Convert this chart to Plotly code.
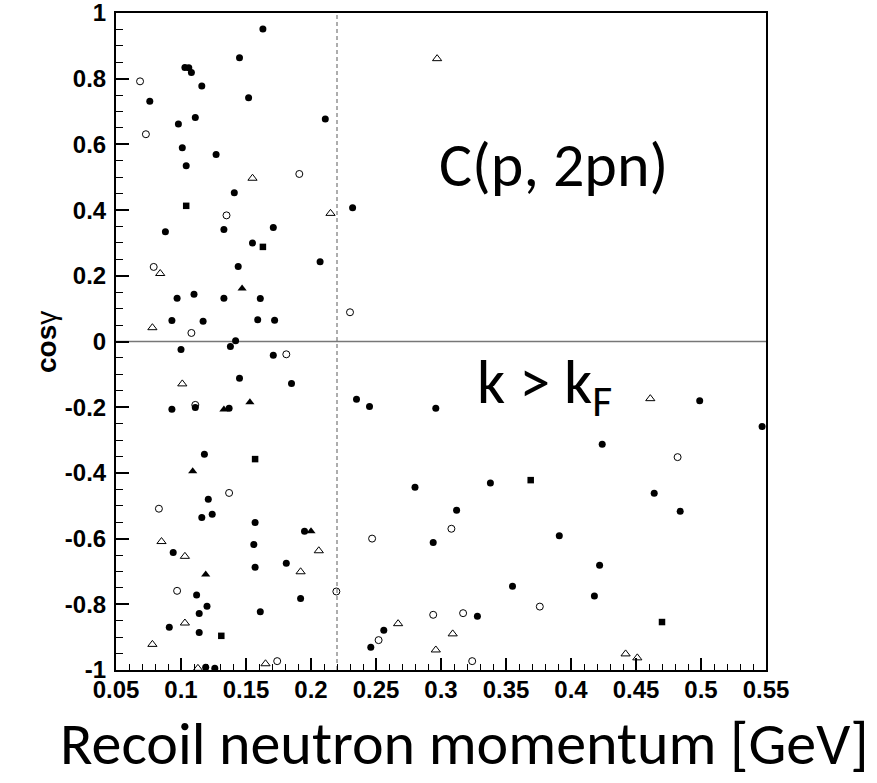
import plotly.graph_objects as go

# ---------------- data ----------------
filled_circle_x = [0.163, 0.145, 0.103, 0.106, 0.108, 0.116, 0.076, 0.152, 0.111, 0.211,
                   0.098, 0.101, 0.127, 0.104, 0.141, 0.232,
                   0.088, 0.133, 0.171, 0.155, 0.207, 0.144, 0.097, 0.110, 0.133, 0.161,
                   0.093, 0.117, 0.159, 0.172, 0.142, 0.138, 0.100, 0.171, 0.145, 0.185,
                   0.111, 0.093, 0.137, 0.235,
                   0.118, 0.121, 0.116, 0.124, 0.157, 0.195, 0.156, 0.094, 0.157, 0.181,
                   0.112, 0.192, 0.120, 0.114, 0.161, 0.091, 0.114, 0.119, 0.126,
                   0.245, 0.296, 0.499, 0.547, 0.424, 0.338, 0.280, 0.464, 0.312, 0.484,
                   0.391, 0.294, 0.422, 0.355, 0.418, 0.328, 0.256, 0.246]
filled_circle_y = [0.951, 0.864, 0.834, 0.833, 0.819, 0.778, 0.731, 0.742, 0.682, 0.677,
                   0.662, 0.590, 0.569, 0.535, 0.453, 0.407,
                   0.334, 0.341, 0.347, 0.300, 0.243, 0.228, 0.132, 0.144, 0.132, 0.131,
                   0.064, 0.062, 0.066, 0.065, 0.002, -0.015, -0.024, -0.042, -0.112, -0.128,
                   -0.201, -0.206, -0.203, -0.176,
                   -0.343, -0.480, -0.536, -0.526, -0.551, -0.578, -0.618, -0.642, -0.687, -0.675,
                   -0.772, -0.782, -0.806, -0.828, -0.823, -0.870, -0.886, -0.992, -0.995,
                   -0.198, -0.203, -0.180, -0.259, -0.313, -0.431, -0.444, -0.462, -0.514, -0.517,
                   -0.591, -0.612, -0.681, -0.745, -0.775, -0.836, -0.879, -0.931]

open_circle_x = [0.0685, 0.073, 0.191, 0.135, 0.079, 0.230, 0.108, 0.181, 0.111, 0.137,
                 0.083, 0.097, 0.2195, 0.174, 0.482, 0.308, 0.247, 0.376, 0.294, 0.317,
                 0.252, 0.324]
open_circle_y = [0.792, 0.631, 0.510, 0.384, 0.227, 0.089, 0.026, -0.039, -0.193, -0.461,
                 -0.509, -0.759, -0.761, -0.973, -0.352, -0.570, -0.600, -0.807, -0.832, -0.827,
                 -0.909, -0.973]

open_triangle_x = [0.155, 0.215, 0.297, 0.084, 0.078, 0.101, 0.085, 0.103, 0.206, 0.192,
                   0.103, 0.078, 0.113, 0.165, 0.461, 0.267, 0.309, 0.296, 0.442, 0.451]
open_triangle_y = [0.497, 0.390, 0.861, 0.207, 0.042, -0.129, -0.609, -0.654, -0.637, -0.701,
                   -0.857, -0.922, -0.995, -0.981, -0.174, -0.859, -0.890, -0.939, -0.951, -0.963]

filled_triangle_x = [0.147, 0.133, 0.153, 0.109, 0.200, 0.119]
filled_triangle_y = [0.161, -0.207, -0.185, -0.395, -0.578, -0.709]

filled_square_x = [0.104, 0.163, 0.157, 0.131, 0.369, 0.470]
filled_square_y = [0.413, 0.288, -0.358, -0.896, -0.422, -0.854]

x_tick_vals = [0.05, 0.1, 0.15, 0.2, 0.25, 0.3, 0.35, 0.4, 0.45, 0.5, 0.55]
x_tick_text = ["0.05", "0.1", "0.15", "0.2", "0.25", "0.3", "0.35", "0.4", "0.45", "0.5", "0.55"]
y_tick_vals = [-1, -0.8, -0.6, -0.4, -0.2, 0, 0.2, 0.4, 0.6, 0.8, 1]
y_tick_text = ["-1", "-0.8", "-0.6", "-0.4", "-0.2", "0", "0.2", "0.4", "0.6", "0.8", "1"]

k_fermi_cut = 0.22

# ---------------- figure ----------------
fig = go.Figure()

def add(xs, ys, symbol, size, lw=1.0):
    fig.add_trace(go.Scatter(
        x=xs, y=ys, mode="markers", showlegend=False,
        marker=dict(symbol=symbol, size=size, color="black",
                    line=dict(color="black", width=lw)),
    ))

add(filled_circle_x, filled_circle_y, "circle", 7, 0)
add(open_circle_x, open_circle_y, "circle-open", 7, 1)
add(open_triangle_x, open_triangle_y, "triangle-up-open", 8, 1)
add(filled_triangle_x, filled_triangle_y, "triangle-up", 8, 0)
add(filled_square_x, filled_square_y, "square", 6.5, 0)

# reference lines
fig.add_shape(type="line", xref="x", yref="paper", x0=k_fermi_cut, x1=k_fermi_cut, y0=0, y1=1,
              line=dict(color="#777777", width=1.2, dash="4px,3px"), layer="below")
fig.add_shape(type="line", xref="paper", yref="y", x0=0, x1=1, y0=0, y1=0,
              line=dict(color="#777777", width=1.5), layer="below")

big_font = "Carlito, Lato, sans-serif"

fig.add_annotation(text="C(p, 2pn)", xref="paper", yref="paper", x=0.494, y=0.768,
                   xanchor="left", yanchor="middle", showarrow=False,
                   font=dict(family=big_font, size=62, color="black"))
fig.add_annotation(text="k > k<sub>F</sub>", xref="paper", yref="paper", x=0.553, y=0.433,
                   xanchor="left", yanchor="middle", showarrow=False,
                   font=dict(family=big_font, size=62, color="black"))
fig.add_annotation(text="Recoil neutron momentum [GeV]", xref="paper", yref="paper",
                   x=1.162, y=-0.112, xanchor="right", yanchor="middle", showarrow=False,
                   font=dict(family=big_font, size=60, color="black"))
fig.add_annotation(text="<b>cos</b>γ", xref="paper", yref="paper",
                   x=-0.1077, y=0.4992, xanchor="center", yanchor="middle", showarrow=False,
                   textangle=-90,
                   font=dict(family="Arial, Liberation Sans", size=28, color="black"))

axis_common = dict(showgrid=False, zeroline=False, showline=True, linecolor="black",
                   linewidth=2, mirror=True, ticks="inside", tickcolor="black",
                   tickwidth=1.5, tickmode="array", ticklabeloverflow="allow",
                   automargin=False,
                   tickfont=dict(family="Arial, Liberation Sans", size=24, color="black",
                                 weight="bold"))

fig.update_xaxes(range=[0.05, 0.55], tickvals=x_tick_vals, ticktext=x_tick_text,
                 ticklen=12, ticklabelstandoff=-3,
                 minor=dict(tickmode="linear", tick0=0.05, dtick=0.01, ticks="inside",
                            ticklen=6, tickwidth=1.2, tickcolor="black"),
                 **axis_common)
fig.update_yaxes(range=[-1, 1], tickvals=y_tick_vals, ticktext=y_tick_text,
                 ticklen=13, ticklabelstandoff=3,
                 minor=dict(tickmode="linear", tick0=-1, dtick=0.05, ticks="inside",
                            ticklen=7, tickwidth=1.2, tickcolor="black"),
                 **axis_common)

fig.update_layout(width=877, height=783,
                  margin=dict(l=116, r=111, t=13, b=113, autoexpand=False),
                  plot_bgcolor="white", paper_bgcolor="white")

fig.write_html("out.html")
